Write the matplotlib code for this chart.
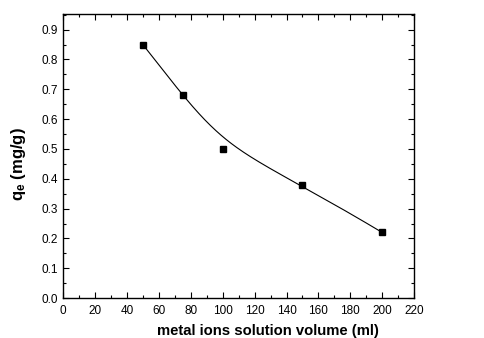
import numpy as np
import matplotlib
matplotlib.use("Agg")
import matplotlib.pyplot as plt
from matplotlib.ticker import MultipleLocator

#data
volume = [50, 75, 100, 150, 200]
qe = [0.85, 0.68, 0.50, 0.38, 0.22]

#clamped cubic b-spline using the data points as control points (origin style)
def bspline(px, py, n=200):
    pts = np.column_stack([px, py])
    k = 3
    m = len(pts)
    knots = np.concatenate([np.zeros(k), np.linspace(0, 1, m - k + 1), np.ones(k)])
    out = []
    for t in np.linspace(0, 1 - 1e-9, n):
        # cox-de boor basis
        N = np.array([1.0 if knots[i] <= t < knots[i + 1] else 0.0 for i in range(len(knots) - 1)])
        for d in range(1, k + 1):
            Nn = np.zeros(len(knots) - d - 1)
            for i in range(len(Nn)):
                a = 0.0
                if knots[i + d] != knots[i]:
                    a = (t - knots[i]) / (knots[i + d] - knots[i]) * N[i]
                b = 0.0
                if knots[i + d + 1] != knots[i + 1]:
                    b = (knots[i + d + 1] - t) / (knots[i + d + 1] - knots[i + 1]) * N[i + 1]
                Nn[i] = a + b
            N = Nn
        out.append(N @ pts)
    out.append(pts[-1])
    out = np.array(out)
    return out[:, 0], out[:, 1]

plt.rcParams['font.family'] = ['Liberation Sans', 'DejaVu Sans']
plt.rcParams['mathtext.fontset'] = 'custom'
plt.rcParams['mathtext.rm'] = 'Liberation Sans:bold'
plt.rcParams['mathtext.bf'] = 'Liberation Sans:bold'

fig = plt.figure(figsize=(4.85, 3.38), dpi=100)
ax = fig.add_axes([0.130, 0.118, 0.724, 0.841])

sx, sy = bspline(volume, qe)
ax.plot(sx, sy, color="black", linewidth=0.8)
ax.plot(volume, qe, linestyle="none", marker="s", markersize=5, color="black")

ax.set_xlim(0, 220)
ax.set_ylim(0, 0.953)
ax.xaxis.set_major_locator(MultipleLocator(20))
ax.xaxis.set_minor_locator(MultipleLocator(10))
ax.yaxis.set_major_locator(MultipleLocator(0.1))
ax.yaxis.set_minor_locator(MultipleLocator(0.05))
ax.yaxis.set_major_formatter(plt.FormatStrFormatter("%.1f"))
ax.tick_params(which="both", direction="in", top=True, right=True, labelsize=8.5, width=0.8)
ax.tick_params(which="major", length=4.5)
ax.tick_params(which="minor", length=2.5)
ax.tick_params(axis="x", pad=5)
for s in ax.spines.values():
    s.set_linewidth(1.0)

#axis titles placed where the reference has them
ax.text(0.584, -0.130, "metal ions solution volume (ml)", transform=ax.transAxes,
        fontsize=10.7, fontweight="bold", ha="center", va="baseline")
ax.text(-0.128, 0.472, r"$\mathrm{q_e}$ (mg/g)", transform=ax.transAxes,
        fontsize=12, fontweight="bold", ha="center", va="center", rotation=90)

fig.savefig("out.png", dpi=100)
